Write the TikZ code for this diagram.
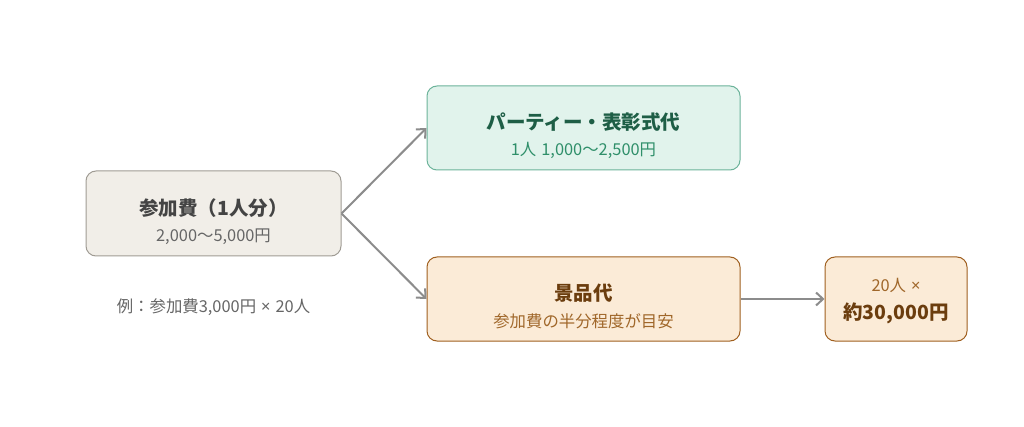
\documentclass[tikz,border=0pt]{standalone}
\usepackage{fontspec}
\setmainfont{Noto Sans CJK JP}
\newfontfamily\latf{Noto Sans}
\usetikzlibrary{arrows.meta}
\definecolor{lfill}{HTML}{F1EEE8}
\definecolor{ldraw}{HTML}{A09C94}
\definecolor{ltext}{HTML}{444444}
\definecolor{lsub}{HTML}{666666}
\definecolor{gfill}{HTML}{E1F3EC}
\definecolor{gdraw}{HTML}{6CB39A}
\definecolor{gtext}{HTML}{1E5E46}
\definecolor{gsub}{HTML}{2F8F6A}
\definecolor{ofill}{HTML}{FBEBD7}
\definecolor{odraw}{HTML}{A06020}
\definecolor{otext}{HTML}{6B3D0E}
\definecolor{osub}{HTML}{A0672A}
\definecolor{arr}{HTML}{8C8C8C}
\newcommand{\tms}{{\latf ×}}
\newcommand{\gap}{\hspace{5pt}}
\tikzset{
  box/.style={rectangle, rounded corners=10pt, line width=1pt, inner sep=0pt},
  ttl/.style={font=\fontsize{19.5}{22}\selectfont\bfseries, inner sep=0pt, anchor=center},
  sub/.style={font=\fontsize{16.4}{19}\selectfont, inner sep=0pt, anchor=center},
  conn/.style={draw=arr, line width=2pt, -{Straight Barb[length=7pt,width=13pt,line width=2pt]}}
}
\begin{document}
\begin{tikzpicture}[x=1pt,y=-1pt]
\useasboundingbox[fill=white] (0,0) rectangle (1024,427);
% boxes
\node[box, fill=lfill, draw=ldraw, minimum width=255pt, minimum height=85pt] (fee) at (213.5,213.5) {};
\node[box, fill=gfill, draw=gdraw, minimum width=313pt, minimum height=84pt] (party) at (583.5,128) {};
\node[box, fill=ofill, draw=odraw, minimum width=313pt, minimum height=84pt] (prize) at (583.5,299) {};
\node[box, fill=ofill, draw=odraw, minimum width=142pt, minimum height=84pt] (total) at (896,299) {};
% texts
\node[ttl, text=ltext] (feet) at (213.5,208) {参加費（1人分）};
\node[sub, text=lsub] (fees) at (213.5,237) {2,000〜5,000円};
\node[ttl, text=gtext] (partyt) at (583.5,122) {パーティー・表彰式代};
\node[sub, text=gsub] (partys) at (583.5,150) {1人\gap 1,000〜2,500円};
\node[ttl, text=otext] (prizet) at (583.5,293) {景品代};
\node[sub, text=osub] (prizes) at (583.5,321) {参加費の半分程度が目安};
\node[sub, text=osub] (totalt) at (896,285) {20人\gap\tms};
\node[ttl, text=otext] (totals) at (896,313) {約30,000円};
\node[sub, text=lsub] (ex) at (213.5,307) {例：参加費3,000円\gap\tms\gap 20人};
% connectors
\draw[conn] (fee.east) -- (party.west);
\draw[conn] (fee.east) -- (prize.west);
\draw[conn] (prize.east) -- (total.west);
\end{tikzpicture}
\end{document}
